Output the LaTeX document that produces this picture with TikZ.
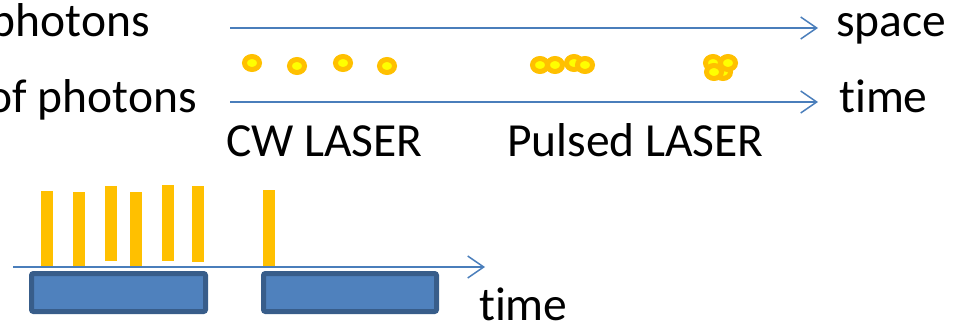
\documentclass[tikz,border=0pt]{standalone}
\usepackage{fontspec}
\setmainfont{Carlito}[Ligatures=NoCommon]
\usetikzlibrary{arrows.meta,shapes.geometric}
\definecolor{axisblue}{HTML}{4A7EBB}
\definecolor{photonorange}{HTML}{FFC000}
\definecolor{photonyellow}{HTML}{FFFF00}
\definecolor{boxfill}{HTML}{4F81BD}
\definecolor{boxedge}{HTML}{385D8A}
\tikzset{
  lbl/.style={inner sep=0pt, font=\fontsize{47.5}{52}\selectfont},
  axisline/.style={draw=axisblue, line width=1.5pt, -{Straight Barb[length=16pt,width=22pt,line width=1.5pt]}},
  photon/.style={ellipse, draw=photonorange, fill=photonyellow, line width=5pt, minimum width=15pt, minimum height=13pt, inner sep=0pt},
  pulsebar/.style={rectangle, fill=photonorange, inner sep=0pt, minimum width=12pt},
  gatebox/.style={rectangle, draw=boxedge, fill=boxfill, line width=5pt, rounded corners=2pt, inner sep=0pt, minimum height=38pt},
}
\begin{document}
\begin{tikzpicture}[x=1pt,y=-1pt]
\useasboundingbox (0,0) rectangle (965,324);
% top axes
\coordinate (s0) at (230,28);
\coordinate (s1) at (818,28);
\coordinate (t0) at (230,102);
\coordinate (t1) at (818,102);
\draw[axisline] (s0) -- (s1);
\draw[axisline] (t0) -- (t1);
\node[lbl, anchor=base east] (ph1) at (150,36) {photons};
\node[lbl, anchor=base east] (ph2) at (197,112) {of photons};
\node[lbl, anchor=base west] (space) at (836,36) {space};
\node[lbl, anchor=base west] (time1) at (839,112) {time};
\node[lbl, anchor=base west] (cw) at (226,156) {CW LASER};
\node[lbl, anchor=base west] (pl) at (507,156) {Pulsed LASER};
% CW photons
\node[photon] (c1) at (252,63) {};
\node[photon] (c2) at (297,66) {};
\node[photon] (c3) at (343,63) {};
\node[photon] (c4) at (387,66) {};
% pulsed photons
\node[photon] (p1) at (540,65) {};
\node[photon] (p2) at (555,65) {};
\node[photon] (p3) at (574,63) {};
\node[photon] (p4) at (585,65) {};
\node[photon] (q1) at (713,63) {};
\node[photon] (q2) at (723,72) {};
\node[photon] (q3) at (728,63) {};
\node[photon] (q4) at (714,72) {};
% bottom
\node[gatebox, minimum width=174pt] (g1) at (118.5,292.5) {};
\node[gatebox, minimum width=173pt] (g2) at (350,292.5) {};
\node[pulsebar, minimum height=76pt] (b1) at (47,229) {};
\node[pulsebar, minimum height=75pt] (b2) at (79,229.5) {};
\node[pulsebar, minimum height=75pt] (b3) at (111,223.5) {};
\node[pulsebar, minimum height=75pt] (b4) at (136,229.5) {};
\node[pulsebar, minimum height=76pt] (b5) at (168,223) {};
\node[pulsebar, minimum height=76pt] (b6) at (198,224) {};
\node[pulsebar, minimum height=76pt] (b7) at (268.5,228) {};
\coordinate (a0) at (13,267);
\coordinate (a1) at (485,267);
\draw[axisline] (a0) -- (a1);
\node[lbl, anchor=base west] (time2) at (479,320) {time};
\end{tikzpicture}
\end{document}
